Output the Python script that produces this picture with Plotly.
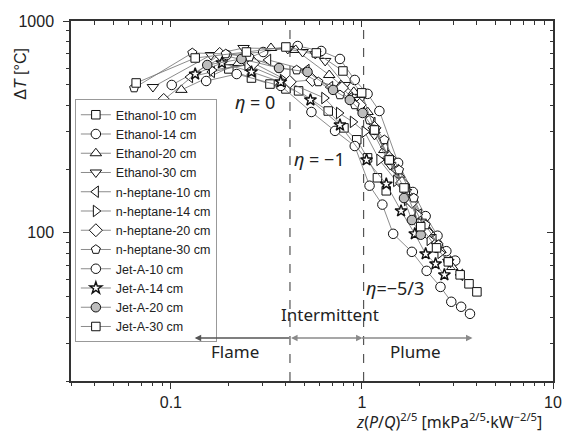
import math
import plotly.graph_objects as go

# ---------------- data ----------------
series_names = [
    "Ethanol-10 cm", "Ethanol-14 cm", "Ethanol-20 cm", "Ethanol-30 cm",
    "n-heptane-10 cm", "n-heptane-14 cm", "n-heptane-20 cm", "n-heptane-30 cm",
    "Jet-A-10 cm", "Jet-A-14 cm", "Jet-A-20 cm", "Jet-A-30 cm",
]

ethanol_10_x = [0.201, 0.264, 0.330, 0.400, 0.466, 0.666, 0.805, 0.939, 1.07, 1.205, 1.34]
ethanol_10_y = [594, 538, 504, 478, 468, 376, 313, 275, 226, 182, 158]

ethanol_14_x = [0.101, 0.196, 0.304, 0.461, 0.612, 0.767, 0.917, 1.07, 1.234, 1.546, 1.847, 2.155, 2.486, 2.766, 3.077]
ethanol_14_y = [499, 691, 714, 762, 722, 662, 527, 453, 376, 214, 156, 120, 97, 82, 74]

ethanol_20_x = [0.1135, 0.226, 0.334, 0.450, 0.674, 0.777, 0.906, 1.07, 1.309, 1.564, 1.825, 2.26, 2.576, 2.97]
ethanol_20_y = [473, 634, 746, 730, 556, 499, 463, 372, 246, 188, 146, 101, 83, 69]

ethanol_30_x = [0.0805, 0.162, 0.240, 0.409, 0.489, 0.570, 0.642, 0.815, 0.973, 1.163, 1.406, 1.70, 2.031, 2.428, 2.832]
ethanol_30_y = [488, 691, 746, 738, 714, 699, 648, 499, 424, 290, 209, 156, 113, 89, 73]

heptane_10_x = [0.126, 0.164, 0.323, 0.513, 0.682, 0.864, 0.997, 1.136, 1.325, 1.51, 1.72, 1.983, 2.37, 2.832, 3.266]
heptane_10_y = [544, 575, 655, 587, 488, 433, 380, 330, 254, 198, 160, 122, 92.7, 73, 63.4]

heptane_14_x = [0.164, 0.2515, 0.3855, 0.635, 0.758, 0.896, 1.033, 1.234, 1.51, 1.72, 1.96, 2.26, 2.576]
heptane_14_y = [587, 620, 527, 433, 368, 334, 300, 221, 176, 143, 122, 92.7, 80.5]

heptane_20_x = [0.0917, 0.180, 0.270, 0.419, 0.550, 0.786, 0.973, 1.163, 1.389, 1.621, 1.825, 2.181]
heptane_20_y = [424, 699, 634, 516, 527, 483, 402, 313, 226, 172, 140, 101]

heptane_30_x = [0.0642, 0.1294, 0.1937, 0.2576, 0.3676, 0.4552, 0.591, 0.767, 0.917, 1.096, 1.309, 1.564, 1.869, 2.155, 2.515]
heptane_30_y = [483, 707, 699, 676, 600, 587, 516, 448, 402, 341, 275, 198, 146, 109, 87.8]

jeta_10_x = [0.153, 0.221, 0.376, 0.544, 0.723, 0.917, 1.096, 1.279, 1.457, 1.825, 2.181, 2.576, 2.935, 3.305, 3.677]
jeta_10_y = [521, 562, 494, 372, 303, 257, 167, 136, 99, 81.4, 66.2, 55.6, 47.3, 44.8, 41.5]

jeta_14_x = [0.134, 0.185, 0.264, 0.376, 0.5375, 0.767, 1.057, 1.341, 1.602, 1.891, 2.155, 2.428, 2.701]
jeta_14_y = [562, 634, 575, 516, 424, 323, 221, 170, 127, 99, 79.6, 71.4, 63.4]

jeta_20_x = [0.155, 0.234, 0.368, 0.519, 0.706, 0.864, 1.008, 1.163, 1.389, 1.66, 1.825, 2.031]
jeta_20_y = [620, 662, 600, 575, 473, 424, 368, 306, 221, 146, 115, 98]

jeta_30_x = [0.0658, 0.134, 0.2485, 0.400, 0.577, 0.795, 0.9965, 1.163, 1.389, 1.66, 2.031, 2.457, 2.832, 3.266, 3.634, 3.997]
jeta_30_y = [510, 669, 714, 754, 707, 581, 458, 306, 221, 163, 107, 85, 73, 63.4, 57.5, 52.7]

series_x = [ethanol_10_x, ethanol_14_x, ethanol_20_x, ethanol_30_x,
            heptane_10_x, heptane_14_x, heptane_20_x, heptane_30_x,
            jeta_10_x, jeta_14_x, jeta_20_x, jeta_30_x]
series_y = [ethanol_10_y, ethanol_14_y, ethanol_20_y, ethanol_30_y,
            heptane_10_y, heptane_14_y, heptane_20_y, heptane_30_y,
            jeta_10_y, jeta_14_y, jeta_20_y, jeta_30_y]

regime_bounds = [0.42, 1.02]          # flame / intermittent / plume limits
x_range = [0.03, 10]
y_range = [20, 1000]
x_tick_vals = [0.1, 1, 10]
x_tick_text = ["0.1", "1", "10"]
y_tick_vals = [100, 1000]
y_tick_text = ["100", "1000"]

# ---------------- styles ----------------
symbols = ["square", "circle", "triangle-up", "triangle-down",
           "triangle-left", "triangle-right", "diamond", "pentagon",
           "circle", "star", "circle", "square"]
sizes = [8.5, 9.5, 10, 10, 10, 10, 10, 9.5, 9.5, 9, 9.5, 8.5]
fills = ["white"] * 12
fills[9] = "#ffffff"
fills[10] = "#bdbdbd"
outline_w = [1] * 12
outline_w[9] = 1.4

AX = "#333333"
TXT = "#222222"
SANS = "Liberation Sans, Arial, sans-serif"
MYR = "Noto Sans, Open Sans, sans-serif"

fig = go.Figure()

# regime boundaries (dashed)
for b in regime_bounds:
    fig.add_trace(go.Scatter(
        x=[b, b], y=y_range, mode="lines",
        line=dict(color="#555555", width=1.2, dash="dash"),
        showlegend=False, hoverinfo="skip"))

for name, xs, ys, sym, sz, fc, ow in zip(series_names, series_x, series_y,
                                         symbols, sizes, fills, outline_w):
    fig.add_trace(go.Scatter(
        x=xs, y=ys, name=name, mode="lines+markers",
        line=dict(color="#6e6e6e", width=0.8),
        marker=dict(symbol=sym, size=sz, color=fc,
                    line=dict(color="#111111", width=ow))))

# hidden trace to carry the mirrored (inside-tick) top/right axes
fig.add_trace(go.Scatter(x=jeta_30_x[:1], y=jeta_30_y[:1], xaxis="x2", yaxis="y2",
                         mode="markers", marker=dict(opacity=0),
                         showlegend=False, hoverinfo="skip"))

minor_x = [k * 10 ** e for e in (-2, -1, 0) for k in range(2, 10) if 0.03 <= k * 10 ** e <= 10]
minor_y = [k * 10 ** e for e in (1, 2) for k in range(2, 10) if 20 <= k * 10 ** e <= 1000]

xr = [math.log10(v) for v in x_range]
yr = [math.log10(v) for v in y_range]

common_tick = dict(tickcolor=AX, tickwidth=1.2, showgrid=False, zeroline=False)

fig.update_layout(
    width=569, height=432,
    margin=dict(l=71, r=7, t=21, b=51),
    paper_bgcolor="white", plot_bgcolor="white",
    showlegend=True,
    xaxis=dict(type="log", range=xr, showline=True, linecolor=AX, linewidth=1.5,
               mirror=True, ticks="outside", ticklen=6,
               tickvals=x_tick_vals, ticktext=x_tick_text,
               tickfont=dict(family=SANS, size=16, color=TXT),
               minor=dict(ticks="outside", ticklen=3.5, tickwidth=1, tickcolor=AX,
                          tickvals=minor_x),
               **common_tick),
    yaxis=dict(type="log", range=yr, showline=True, linecolor=AX, linewidth=1.5,
               mirror=True, ticks="outside", ticklen=6, ticklabelstandoff=6,
               tickvals=y_tick_vals, ticktext=y_tick_text,
               tickfont=dict(family=SANS, size=16, color=TXT),
               minor=dict(ticks="outside", ticklen=3.5, tickwidth=1, tickcolor=AX,
                          tickvals=minor_y),
               **common_tick),
    xaxis2=dict(type="log", range=xr, overlaying="x", side="top", showline=False,
                ticks="inside", ticklen=6, tickvals=x_tick_vals, showticklabels=False,
                minor=dict(ticks="inside", ticklen=3.5, tickwidth=1, tickcolor=AX,
                           tickvals=minor_x),
                **common_tick),
    yaxis2=dict(type="log", range=yr, overlaying="y", side="right", showline=False,
                ticks="inside", ticklen=6, tickvals=y_tick_vals, showticklabels=False,
                minor=dict(ticks="inside", ticklen=3.5, tickwidth=1, tickcolor=AX,
                           tickvals=minor_y),
                **common_tick),
    legend=dict(x=0.008, y=0.783, xanchor="left", yanchor="top",
                bgcolor="white", bordercolor="#999999", borderwidth=1,
                font=dict(family=SANS, size=12.5, color=TXT),
                tracegroupgap=0),
)


def label(text, x, y, size, family=MYR, **kw):
    d = dict(text=text, xref="paper", yref="paper", x=x, y=y,
             xanchor="center", yanchor="middle", showarrow=False,
             font=dict(family=family, size=size, color=TXT))
    d.update(kw)
    return d


def arrow(x, ax, color, both=False):
    d = dict(text="", xref="paper", yref="paper", x=x, y=0.1194, ax=ax, ay=0,
             showarrow=True, arrowhead=2, arrowsize=1, arrowwidth=1.3,
             arrowcolor=color, standoff=0, startstandoff=0)
    if both:
        d.update(arrowside="end+start", startarrowhead=2)
    return d


annotations = [
    # axis titles
    label("Δ<i>T</i> [°C]", -0.104, 0.853, 16, family=SANS, textangle=-90),
    label("<i>z</i>(<i>P</i>/<i>Q</i>)<sup>2/5</sup> [mkPa<sup>2/5</sup>·kW<sup>−2/5</sup>]",
          0.982, -0.11, 16, xanchor="right"),
    # slope labels
    label("<i>η</i> = 0", 0.381, 0.775, 18),
    label("<i>η</i> = −1", 0.515, 0.617, 18),
    label("<i>η</i>=−5/3", 0.672, 0.258, 18),
    # regime labels
    label("Intermittent", 0.5377, 0.186, 17),
    label("Flame", 0.340, 0.081, 17),
    label("Plume", 0.715, 0.081, 17),
    # regime arrows
    arrow(0.2566, 96, "#555555"),
    arrow(0.6049, -73, "#8a8a8a", both=True),
    arrow(0.833, -112, "#8a8a8a"),
]
fig.update_layout(annotations=annotations)

fig.write_html("out.html",
               config={"displayModeBar": False},
               post_script="document.body.style.margin='0';document.body.style.padding='0';")
